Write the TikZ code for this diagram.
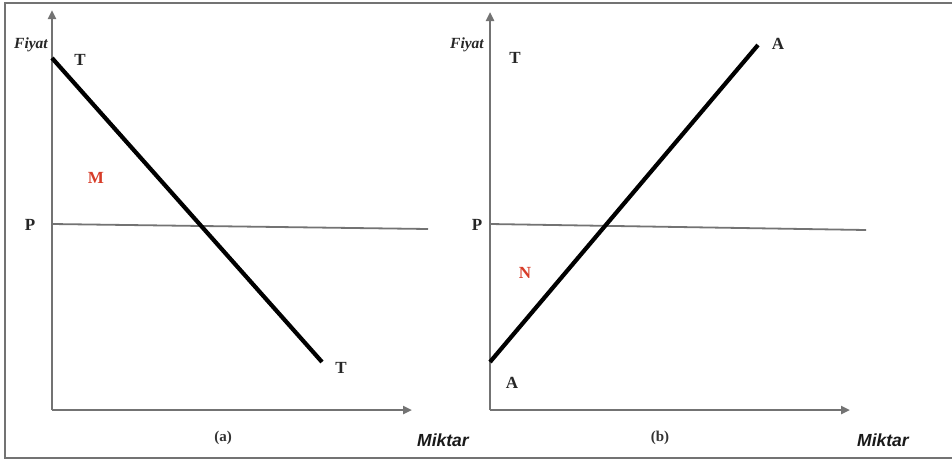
\documentclass[tikz,border=0pt]{standalone}
\usepackage{fontspec}
\setmainfont{Liberation Serif}
\newfontfamily\miksans{Liberation Sans}
\usetikzlibrary{arrows.meta}
\definecolor{axisgray}{RGB}{115,115,115}
\definecolor{redlab}{RGB}{215,60,40}
\tikzset{
  axis/.style={draw=axisgray, line width=2.6pt, -{Triangle[length=9pt,width=8pt]}},
  curve/.style={draw=black, line width=4.2pt},
  pline/.style={draw=axisgray, line width=1.8pt},
  frame/.style={draw=axisgray, line width=2.6pt},
  lab/.style={font=\bfseries\fontsize{17}{17}\selectfont, text=black!85},
  redl/.style={font=\bfseries\fontsize{17}{17}\selectfont, text=redlab},
  fiy/.style={font=\bfseries\itshape\fontsize{15.5}{15.5}\selectfont, text=black!85},
  mik/.style={font=\miksans\bfseries\itshape\fontsize{17.5}{17.5}\selectfont, text=black!90},
  sublab/.style={font=\bfseries\fontsize{15}{15}\selectfont, text=black!80},
}
\begin{document}
\begin{tikzpicture}[x=1pt,y=-1pt]
\useasboundingbox (0,0) rectangle (952,461);
% frame
\draw[frame] (952,3) -- (5,3) -- (5,458) -- (952,458);
% panel a
\coordinate (oa) at (52,410);
\coordinate (ya) at (52,10);
\coordinate (xa) at (412,410);
\coordinate (d1) at (52,58);
\coordinate (d2) at (322,362);
\coordinate (pa1) at (52,224);
\coordinate (pa2) at (428,229);
\draw[pline] (pa1) -- (pa2);
\draw[axis] (oa) -- (ya);
\draw[axis] (oa) -- (xa);
\draw[curve] (d1) -- (d2);
\node[fiy] (fa) at (31,45) {Fiyat};
\node[lab] (ta1) at (80,60) {T};
\node[redl] (m) at (96,178) {M};
\node[lab] (pa) at (30,225) {P};
\node[lab] (ta2) at (341,368) {T};
\node[sublab] (ca) at (223,438) {(a)};
\node[mik] (mka) at (443,440) {Miktar};
% panel b
\coordinate (ob) at (490,410);
\coordinate (yb) at (490,12);
\coordinate (xb) at (850,410);
\coordinate (s1) at (490,362);
\coordinate (s2) at (758,45);
\coordinate (pb1) at (490,224);
\coordinate (pb2) at (866,230);
\draw[pline] (pb1) -- (pb2);
\draw[axis] (ob) -- (yb);
\draw[axis] (ob) -- (xb);
\draw[curve] (s1) -- (s2);
\node[fiy] (fb) at (467,45) {Fiyat};
\node[lab] (tb) at (515,58) {T};
\node[lab] (ab1) at (778,44) {A};
\node[lab] (pb) at (477,225) {P};
\node[redl] (n) at (525,273) {N};
\node[lab] (ab2) at (512,383) {A};
\node[sublab] (cb) at (660,438) {(b)};
\node[mik] (mkb) at (883,440) {Miktar};
\end{tikzpicture}
\end{document}
